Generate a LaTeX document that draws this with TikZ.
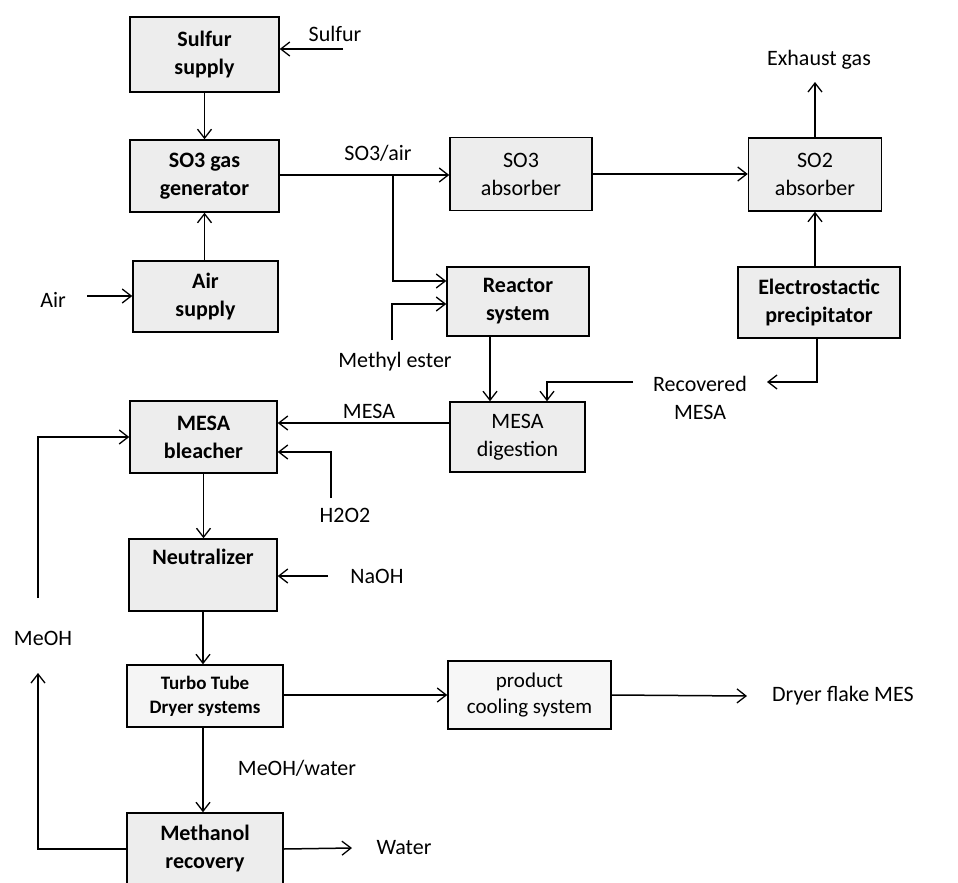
\documentclass[tikz,border=0pt]{standalone}
\usepackage{fontspec}
\setmainfont{Carlito}
\usetikzlibrary{arrows.meta}
\begin{document}
\begin{tikzpicture}[x=1pt,y=-1pt,
  box/.style={draw, line width=1.5pt, fill=black!7, inner sep=0pt, align=center,
    font=\fontsize{22}{28}\selectfont},
  bbox/.style={box, font=\fontsize{22}{28}\selectfont\bfseries},
  lbl/.style={inner sep=0pt, align=center, font=\fontsize{22}{28}\selectfont},
  ln/.style={line width=1.5pt},
  arr/.style={line width=1.5pt, -{Straight Barb[length=9pt,width=14pt,line width=1.3pt]}}]
\useasboundingbox (0,0) rectangle (958,883);
\fill[white] (0,0) rectangle (958,883);

% boxes
\node[bbox, minimum width=149pt, minimum height=75pt] (sulfur) at (204.5,54.5) {Sulfur\\supply};
\node[bbox, minimum width=149pt, minimum height=72pt] (so3gen) at (204.5,176) {SO3 gas\\generator};
\node[bbox, minimum width=145pt, minimum height=71pt] (air) at (205.5,296.5) {Air\\supply};
\node[box, minimum width=142pt, minimum height=73pt] (so3abs) at (521,174) {SO3\\absorber};
\node[box, minimum width=133pt, minimum height=73pt] (so2abs) at (815,174.5) {SO2\\absorber};
\node[bbox, minimum width=142pt, minimum height=69pt] (reactor) at (518,301.5) {Reactor\\system};
\node[bbox, minimum width=162pt, minimum height=71pt] (esp) at (819,302.5) {Electrostactic\\precipitator};
\node[box, minimum width=135pt, minimum height=70pt] (digest) at (517.5,437) {MESA\\digestion};
\node[bbox, minimum width=147pt, minimum height=72pt] (bleach) at (203.5,437) {MESA\\bleacher};
\node[bbox, minimum width=148pt, minimum height=72pt] (neutral) at (203,575) {Neutralizer\\\strut};
\node[bbox, minimum width=156pt, minimum height=62pt, fill=black!4,
  font=\fontsize{19}{24}\selectfont\bfseries] (turbo) at (205,696) {Turbo Tube\\Dryer systems};
\node[box, minimum width=163pt, minimum height=68pt, fill=black!3,
  font=\fontsize{21}{26}\selectfont] (cooling) at (529.5,695) {product\\cooling system};
\node[bbox, minimum width=156pt, minimum height=72pt] (methanol) at (205,849) {Methanol\\recovery};

% labels
\node[lbl] (lsulfur) at (335,34) {Sulfur};
\node[lbl] (lair) at (53,300) {Air};
\node[lbl] (lso3air) at (378,153) {SO3/air};
\node[lbl] (lmethyl) at (395,362) {Methyl ester};
\node[lbl] (lexhaust) at (819,60) {Exhaust gas};
\node[lbl] (lrecov) at (700,398) {Recovered\\MESA};
\node[lbl] (lmesa) at (369,411) {MESA};
\node[lbl] (lh2o2) at (345,515) {H2O2};
\node[lbl] (lnaoh) at (377,576) {NaOH};
\node[lbl] (lmeoh) at (43,638) {MeOH};
\node[lbl] (lmeohw) at (297,768) {MeOH/water};
\node[lbl] (lwater) at (404,848) {Water};
\node[lbl, anchor=west] (ldryer) at (772,696) {Dryer flake MES};

% coordinates
\coordinate (csulf) at (343,49);
\coordinate (cair) at (87,296);
\coordinate (cbr) at (393,175);
\coordinate (cme) at (392,340);
\coordinate (cexh) at (815,82);
\coordinate (crec1) at (817,382);
\coordinate (crec2) at (767,382);
\coordinate (crec3) at (633,382);
\coordinate (crec4) at (547,382);
\coordinate (ch2o2) at (331,498);
\coordinate (cnaoh) at (328,576);
\coordinate (cmeoh1) at (38,598);
\coordinate (cmeoh2) at (38,673);
\coordinate (cwater) at (352,848);
\coordinate (cdryer) at (747,696);

% connectors
\draw[arr] (csulf) -- (csulf -| sulfur.east);
\draw[arr] (sulfur.south) -- (so3gen.north);
\draw[arr] (air.north -| so3gen) -- (so3gen.south);
\draw[arr] (cair) -- (cair -| air.west);
\draw[arr] (so3gen.east |- cbr) -- (cbr -| so3abs.west);
\draw[arr] (cbr) |- ([yshift=20.5pt]reactor.west);
\draw[arr] (cme) |- ([yshift=-2.5pt]reactor.west);
\draw[arr] (so3abs.east) -- (so3abs.east -| so2abs.west);
\draw[arr] (so2abs.north) -- (cexh);
\draw[arr] (esp.north -| so2abs) -- (so2abs.south);
\draw[arr] (esp.south -| crec1) -- (crec1) -- (crec2);
\draw[arr] (crec3) -- (crec4) -- (crec4 |- digest.north);
\draw[arr] ([xshift=-28pt]reactor.south) -- ([xshift=-28pt]reactor.south |- digest.north);
\draw[arr] ([yshift=14pt]digest.west) -- ([yshift=14pt]digest.west -| bleach.east);
\draw[arr] (ch2o2) |- ([yshift=-15pt]bleach.east);
\draw[arr] (cnaoh) -- (cnaoh -| neutral.east);
\draw[arr] (cmeoh1) |- (bleach.west);
\draw[arr] (methanol.west) -| (cmeoh2);
\draw[arr] (bleach.south) -- (bleach.south |- neutral.north);
\draw[arr] (neutral.south) -- (neutral.south |- turbo.north);
\draw[arr] (turbo.south -| neutral) -- (neutral |- methanol.north);
\draw[arr] (turbo.east |- cooling.west) -- (cooling.west);
\draw[arr] (cooling.east) -- (cdryer);
\draw[arr] (methanol.east) -- (cwater);
\end{tikzpicture}
\end{document}
